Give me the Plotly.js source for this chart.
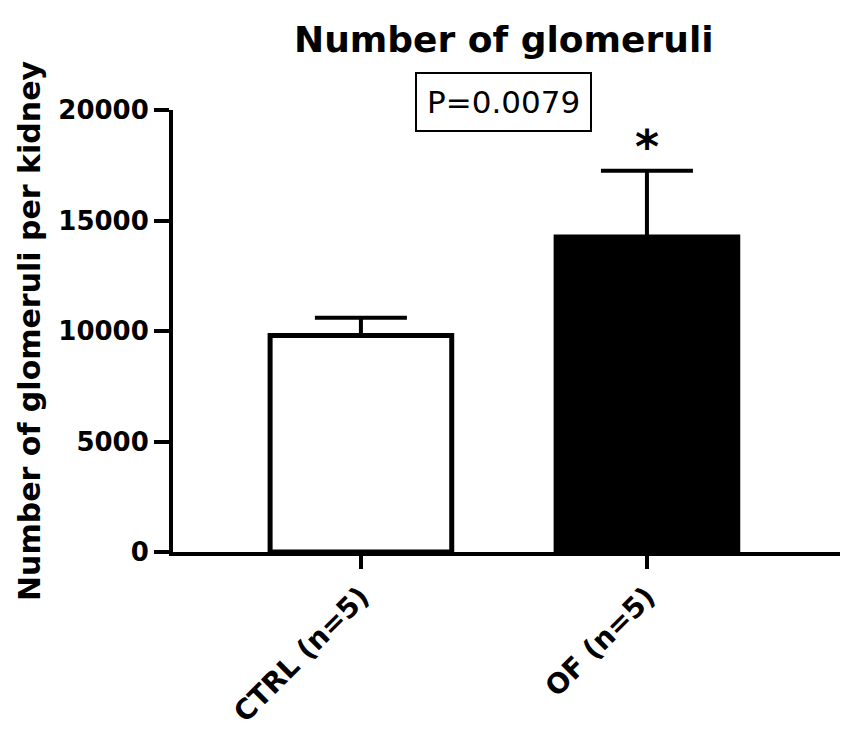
<!DOCTYPE html>
<html>
<head>
<meta charset="utf-8">
<script src="https://cdn.plot.ly/plotly-3.0.1.min.js"></script>
<style>
  html, body { margin: 0; padding: 0; background: #fff; }
  #plot { width: 849px; height: 737px; }
</style>
</head>
<body>
<div id="plot"></div>
<script>
const groups = ['CTRL (n=5)', 'OF (n=5)'];
const means = [9800, 14250];
const sems = [800, 3000];
const barColors = ['#ffffff', '#000000'];
const yTicks = [0, 5000, 10000, 15000, 20000];
const pValueText = 'P=0.0079';
const starText = '*';

const trace = {
  type: 'bar',
  x: groups,
  y: means,
  width: 0.635,
  marker: { color: barColors, line: { color: '#000', width: 5 } },
  error_y: {
    type: 'data',
    symmetric: false,
    array: sems,
    arrayminus: [0, 0],
    color: '#000',
    thickness: 4,
    width: 46
  },
  hoverinfo: 'skip'
};

const layout = {
  width: 849,
  height: 737,
  margin: { l: 173, r: 9, t: 110, b: 185 },
  paper_bgcolor: '#fff',
  plot_bgcolor: '#fff',
  showlegend: false,
  font: { family: 'DejaVu Sans', color: '#000' },
  title: {
    text: '<b>Number of glomeruli</b>',
    font: { family: 'DejaVu Sans', size: 36, color: '#000' },
    xref: 'paper', x: 0.496, xanchor: 'center',
    yref: 'container', y: 0.946, yanchor: 'middle'
  },
  xaxis: {
    type: 'category',
    range: [-0.657, 1.675],
    showline: true, linecolor: '#000', linewidth: 4,
    ticks: 'outside', ticklen: 13, tickwidth: 4, tickcolor: '#000',
    tickangle: -45,
    tickfont: { family: 'DejaVu Sans', size: 28, color: '#000', weight: 'bold' },
    showgrid: false, zeroline: false, fixedrange: true
  },
  yaxis: {
    range: [0, 20000],
    tickvals: yTicks,
    ticktext: yTicks.map(String),
    showline: true, linecolor: '#000', linewidth: 4,
    ticks: 'outside', ticklen: 15, tickwidth: 4, tickcolor: '#000',
    tickfont: { family: 'DejaVu Sans', size: 26, color: '#000', weight: 'bold' },
    showgrid: false, zeroline: false, fixedrange: true,
    title: {
      text: '<b>Number of glomeruli per kidney</b>',
      font: { family: 'DejaVu Sans', size: 30, color: '#000' },
      standoff: 10
    }
  },
  annotations: [
    {
      xref: 'paper', yref: 'paper', x: 0.496, y: 1.018,
      xanchor: 'center', yanchor: 'middle',
      text: pValueText, showarrow: false,
      font: { family: 'DejaVu Sans', size: 31, color: '#000' },
      bordercolor: '#000', borderwidth: 2, borderpad: 10, bgcolor: '#fff'
    },
    {
      xref: 'x', yref: 'y', x: groups[1], y: means[1] + sems[1],
      xanchor: 'center', yanchor: 'bottom', yshift: -5,
      text: '<b>' + starText + '</b>', showarrow: false,
      font: { family: 'DejaVu Sans', size: 46, color: '#000' }
    }
  ]
};

Plotly.newPlot('plot', [trace], layout, { displayModeBar: false, staticPlot: true });
</script>
</body>
</html>
